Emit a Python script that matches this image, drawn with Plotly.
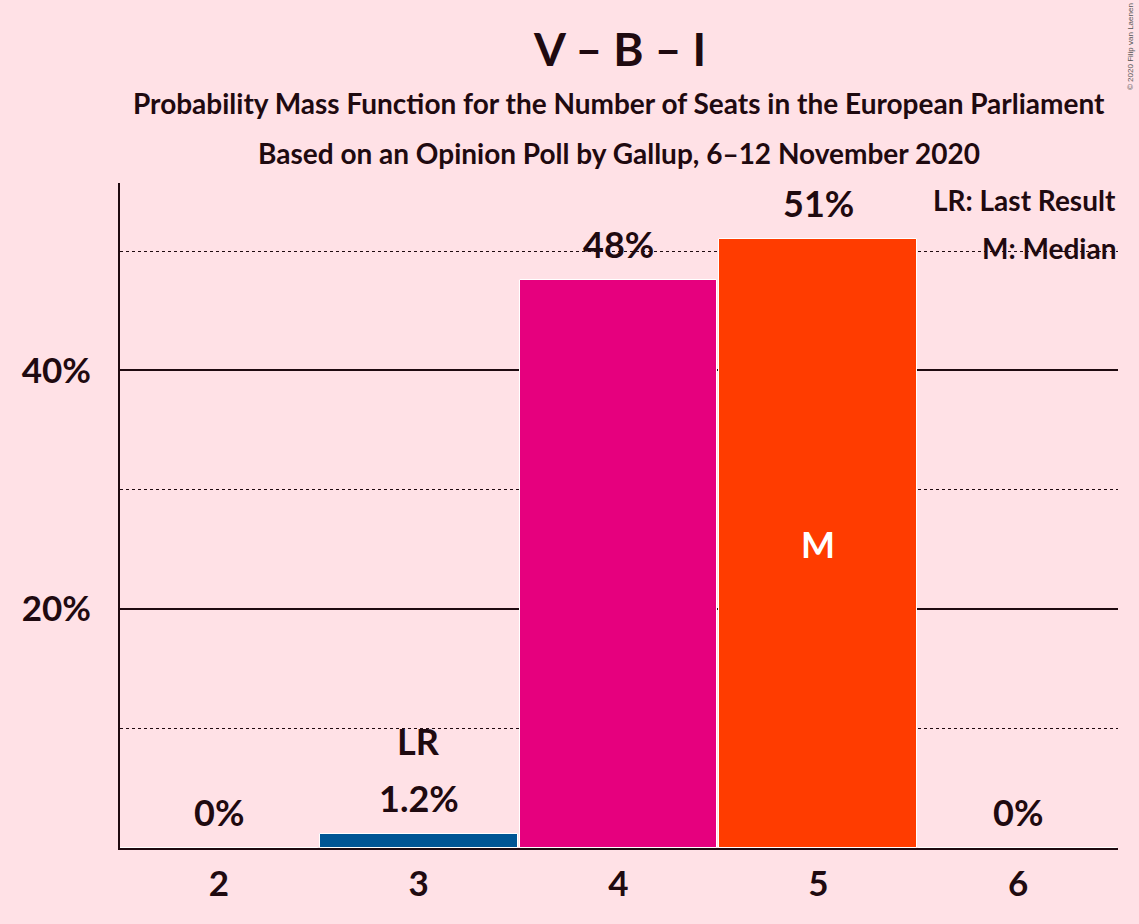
import plotly.graph_objects as go

seats = [2, 3, 4, 5, 6]
probs = [0.0, 1.2, 47.6, 51.0, 0.0]
labels = ["0%", "1.2%", "48%", "51%", "0%"]
colors = ["#005594", "#005594", "#E6007E", "#FF3C00", "#FF3C00"]
last_result = 3
median = 5
y_ticks = [20, 40]
y_tick_text = ["20%", "40%"]

BG = "#FFE1E6"
INK = "#1F0A10"
FONT = "Lato"

# plot area in pixels: left 120, right 1118, top 183, bottom 848
TOP, BOTTOM = 183, 848

fig = go.Figure()
fig.add_trace(go.Bar(
    x=seats, y=probs, width=0.99,
    marker=dict(color=colors, line=dict(color="white", width=1)),
    hoverinfo="skip",
))

ann = []
for s, p, t in zip(seats, probs, labels):
    ann.append(dict(x=s, y=p, xref="x", yref="y", text=t, showarrow=False,
                    yanchor="bottom", yshift=12,
                    font=dict(family=FONT, size=36, color=INK, weight="bold")))
    if s == last_result:
        ann.append(dict(x=s, y=p, xref="x", yref="y", text="LR", showarrow=False,
                        yanchor="bottom", yshift=69,
                        font=dict(family=FONT, size=36, color=INK, weight="bold")))
    if s == median:
        ann.append(dict(x=s, y=p / 2, xref="x", yref="y", text="M", showarrow=False,
                        font=dict(family=FONT, size=36, color="white", weight="bold")))

# legend
ann += [
    dict(x=1, y=(BOTTOM - 200) / (BOTTOM - TOP), xref="paper", yref="paper",
         text="LR: Last Result", showarrow=False, xanchor="right", yanchor="middle",
         font=dict(family=FONT, size=28, color=INK, weight="bold")),
    dict(x=1, y=(BOTTOM - 248) / (BOTTOM - TOP), xref="paper", yref="paper",
         text="M: Median", showarrow=False, xanchor="right", yanchor="middle",
         font=dict(family=FONT, size=28, color=INK, weight="bold")),
]

# titles
ann += [
    dict(x=0.5, y=1, xref="paper", yref="paper", text="V – B – I", showarrow=False,
         yanchor="middle", yshift=(TOP - 48),
         font=dict(family=FONT, size=46, color=INK, weight="bold")),
    dict(x=0.5, y=1, xref="paper", yref="paper",
         text="Probability Mass Function for the Number of Seats in the European Parliament",
         showarrow=False, yanchor="middle", yshift=(TOP - 103),
         font=dict(family=FONT, size=28, color=INK, weight="bold")),
    dict(x=0.5, y=1, xref="paper", yref="paper",
         text="Based on an Opinion Poll by Gallup, 6–12 November 2020",
         showarrow=False, yanchor="middle", yshift=(TOP - 153),
         font=dict(family=FONT, size=28, color=INK, weight="bold")),
    dict(x=1, y=1, xref="paper", yref="paper", text="© 2020 Filip van Laenen",
         showarrow=False, textangle=-90, xanchor="center", yanchor="middle",
         xshift=12, yshift=TOP - 47,
         font=dict(family="Liberation Sans", size=8, color="#555555")),
]

fig.update_layout(
    width=1139, height=924,
    paper_bgcolor=BG, plot_bgcolor=BG,
    margin=dict(l=120, r=21, t=TOP, b=924 - BOTTOM),
    showlegend=False,
    annotations=ann,
    bargap=0,
    xaxis=dict(range=[1.505, 6.5], tickvals=seats, ticktext=[str(s) for s in seats],
               showgrid=False, zeroline=False, showline=True, linecolor=INK, linewidth=2,
               ticks="", ticklabelstandoff=4,
               tickfont=dict(family=FONT, size=35, color=INK, weight="bold")),
    yaxis=dict(range=[0, 55.7], tickvals=y_ticks, ticktext=y_tick_text,
               showgrid=True, gridcolor=INK, gridwidth=1.5,
               minor=dict(dtick=10, tick0=0, showgrid=True, gridcolor=INK, griddash="dot", gridwidth=1.2),
               zeroline=False, showline=True, linecolor=INK, linewidth=2,
               ticks="", ticklabelstandoff=20,
               tickfont=dict(family=FONT, size=35, color=INK, weight="bold")),
)

fig.write_html("out.html", config={"displayModeBar": False},
               post_script="document.body.style.margin='0';document.body.style.background='%s';" % BG)
